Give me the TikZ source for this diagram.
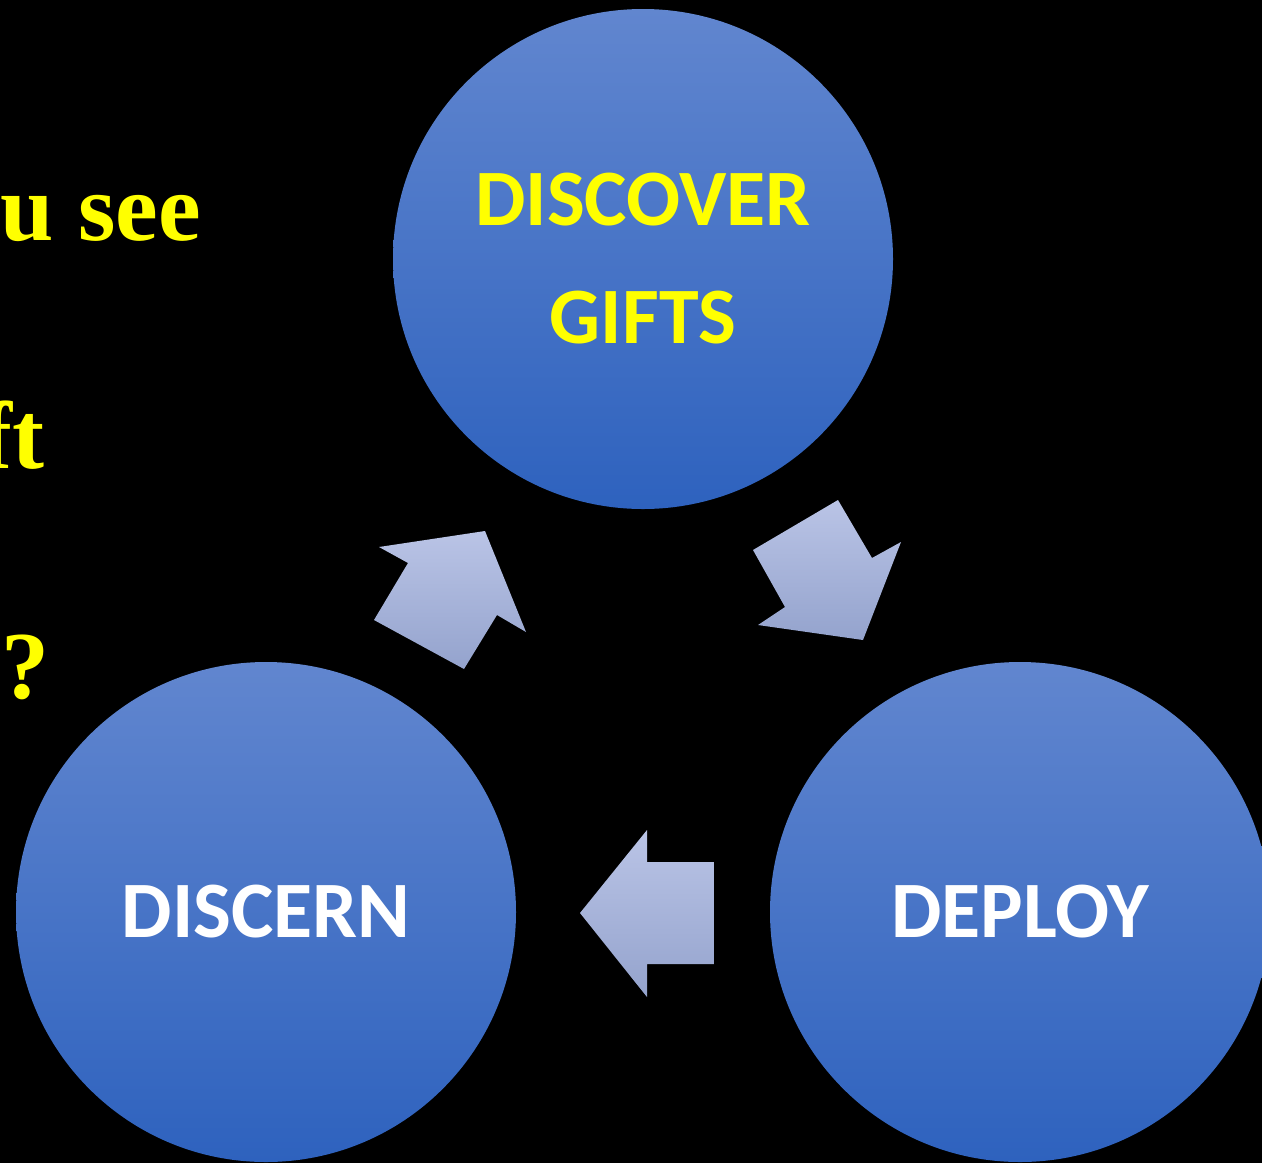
\documentclass[tikz,border=0pt]{standalone}
\usepackage{fontspec}
\setmainfont{Liberation Serif}
\newfontfamily\carlito{Carlito}
\usetikzlibrary{shapes.geometric}
\definecolor{circtop}{RGB}{97,134,207}
\definecolor{circbot}{RGB}{46,98,190}
\definecolor{arrtop}{RGB}{186,196,230}
\definecolor{arrbot}{RGB}{148,163,205}
\definecolor{txtyellow}{RGB}{255,255,0}
\tikzset{
  ball/.style={circle, minimum size=500pt, inner sep=0pt, top color=circtop, bottom color=circbot, draw=none, align=center, font=\carlito\bfseries\fontsize{80}{118}\selectfont},
  blockarrow/.style={top color=arrtop, bottom color=arrbot, draw=none},
  sidetext/.style={anchor=base east, inner sep=0pt, text=txtyellow, font=\bfseries\fontsize{96}{110}\selectfont}
}
\begin{document}
\begin{tikzpicture}[x=1pt,y=-1pt]
\useasboundingbox (0,0) rectangle (1262,1163);
\fill[black] (0,0) rectangle (1262,1163);
% side text (cut off at left)
\node[sidetext] (t1) at (201,240) {u see};
\node[sidetext] (t2) at (45,468) {ft};
\node[sidetext] (t3) at (50,698) {?};
% circles
\node[ball, text=txtyellow] (discover) at (643,259) {DISCOVER\\GIFTS};
\node[ball, text=white] (discern) at (266,912) {DISCERN};
\node[ball, text=white] (deploy) at (1020,912) {DEPLOY};
% block arrows
\path[blockarrow] (753,550) -- (838,500) -- (872,558) -- (901,542) -- (863,640) -- (758,625) -- (785,607) -- cycle;
\path[blockarrow] (714,862) -- (714,964) -- (647,964) -- (647,997) -- (580,913) -- (647,830) -- (647,862) -- cycle;
\path[blockarrow] (374,620) -- (408,563) -- (379,547) -- (485,531) -- (526,632) -- (497,615) -- (464,669) -- cycle;
\end{tikzpicture}
\end{document}
